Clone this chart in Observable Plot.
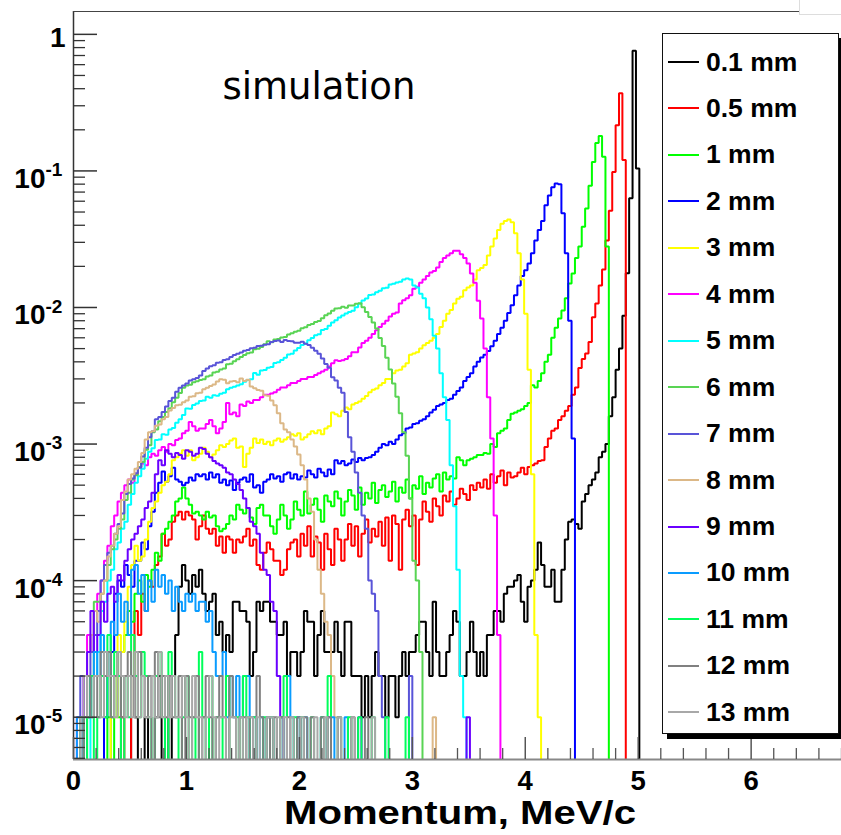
<!DOCTYPE html>
<html><head><meta charset="utf-8">
<script src="https://cdn.jsdelivr.net/npm/d3@7"></script>
<script src="https://cdn.jsdelivr.net/npm/@observablehq/plot@0.6"></script>
<style>
body{margin:0;background:#fff;}
#wrap{position:relative;width:841px;height:835px;overflow:hidden;}
#wrap svg{position:absolute;left:0;top:0;}
#legend{position:absolute;left:662px;top:33px;width:175px;height:699px;border:1px solid #111;box-shadow:5px 5px 0 #000;background:#fff;font-family:"Liberation Sans",Arial,sans-serif;font-weight:bold;}
.row{position:absolute;left:0;height:30px;display:flex;align-items:center;}
.swatch{width:31px;height:2px;margin-left:5px;margin-right:7px;}
.lab{font-size:26.5px;color:#000;}
#corner{position:absolute;left:799px;top:-2px;width:50px;height:15px;background:#fff;border:1px solid #ddd;}
</style></head><body><div id="wrap"></div>
<script>
// ---- data: counts per 0.03 MeV bin, normalised per 1e5 events ----
const BIN_WIDTH = 0.03;      // MeV
const EVENTS = 1e5;          // normalisation
const labels = ["0.1 mm","0.5 mm","1 mm","2 mm","3 mm","4 mm","5 mm","6 mm","7 mm","8 mm","9 mm","10 mm","11 mm","12 mm","13 mm"];
const colors = ["#000000","#ff0000","#00ff00","#0000ff","#ffff00","#ff00ff","#00ffff","#59d454","#5954d8","#dcb887","#6a00ff","#0a9cff","#00ff5a","#808080","#a8a8a8"];

const c_0_1mm = [0,0,0,0,0,0,0,0,0,0, 0,0,0,0,0,0,0,2,1,0, 0,1,0,0,1,2,0,2,0,2,
 4,9,13,10,8,11,9,12,8,6, 7,8,4,5,3,4,3,7,7,6, 6,5,2,3,7,6,7,7,5,5, 4,4,5,2,3,3,2,3,6,5,
 5,2,4,6,3,3,3,5,3,2, 5,5,2,2,2,1,2,1,2,3, 2,2,1,2,2,1,2,3,2,3, 3,4,5,5,3,2,7,3,2,2,
 3,4,6,5,2,2,3,5,3,2, 3,2,4,4,6,6,5,8,9,9, 10,11,7,5,9,10,12,19,13,9, 9,12,7,7,12,20,27,28,26,24,
 38,43,50,55,62,80,88,100,160,220, 350,500,870,1780,6300,76000,10400];
const c_0_5mm = [0,0,0,0,0,0,0,0,0,0, 0,0,0,0,1,0,0,2,6,4, 8,6,10,9,13,15,22,18,20,27,
 30,32,28,32,30,28,20,25,30,24, 22,24,18,21,16,21,20,16,20,19, 21,24,18,20,13,12,16,19,17,14,
 14,11,12,17,19,20,15,22,18,25, 15,21,19,12,22,17,13,24,20,14, 20,26,18,25,15,22,28,19,24,21,
 27,18,29,14,30,26,12,28,33,25, 30,13,28,38,32,27,40,35,30,42, 38,45,36,40,47,43,39,50,46,52,
 48,55,47,60,52,58,64,50,62,57, 58,62,67,60,68,70,72,75,76,95, 110,125,130,150,160,175,190,230,260,360,
 420,460,560,850,1070,1450,1900,3100,5100,9800, 21600,37000,12000];
const c_1mm = [0,0,0,0,0,0,0,0,0,0, 1,0,2,1,3,4,6,5,8,10, 7,11,9,12,16,14,22,24,27,30,
 38,40,48,40,36,31,32,30,28,32, 29,30,25,23,24,26,30,28,36,33, 31,34,29,26,34,36,30,30,25,22,
 28,36,30,24,28,38,33,30,45,31, 36,40,33,27,42,38,35,45,40,30, 38,46,42,33,48,36,44,40,52,37,
 46,50,41,45,53,38,48,44,55,40, 50,47,58,43,52,48,56,60,45,62, 55,58,56,80,76,70,76,78,80,83,
 83,86,85,100,95,120,125,130,150,167, 170,175,180,190,200,270,260,290,330,400, 450,600,710,830,950,1170,1500,1770,2300,2800,
 3900,5300,7800,11600,16000,18000,12700,2800];
const c_2mm = [0,0,0,0,0,0,0,0,0,1, 2,3,8,10,9,13,11,9,14,14, 19,17,25,32,44,52,63,53,58,67,
 55,53,50,52,57,54,60,58,60,55, 62,57,60,52,55,50,54,46,52,55, 57,53,60,48,50,44,53,55,60,56,
 58,53,60,62,56,60,55,58,57,64, 60,57,66,62,58,65,60,76,72,75, 70,72,77,74,79,76,79,80,83,88,
 94,100,98,104,100,108,116,120,130,132, 140,142,148,152,160,170,178,190,195,200, 210,215,230,245,260,290,310,330,370,400,
 430,450,480,520,570,640,710,800,910,1040, 1230,1450,1700,1870,2100,2500,3100,3700,4300,5600,
 6600,7600,8100,8000,4900,2500,800,110];
const c_3mm = [0,0,0,0,0,0,0,0,0,0, 0,2,1,4,3,5,9,13,18,14, 15,20,27,34,38,44,50,53,60,76,
 80,85,90,82,90,76,80,85,94,88, 80,84,90,98,95,100,106,110,94,96, 68,85,94,110,102,108,100,104,98,106,
 110,104,108,112,118,115,120,108,112,118, 124,120,126,118,130,135,170,165,160,175, 185,180,195,200,205,215,225,240,250,255,
 270,280,300,300,330,345,350,370,390,450, 460,470,500,530,550,570,600,640,720,800, 900,960,1070,1160,1200,1340,1400,1450,1600,1870,
 1950,2050,2400,2800,3200,3700,4100,4300,4400,4200, 3500,2500,1600,900,350,60,4,1];
const c_4mm = [0,1,0,2,4,3,6,8,10,14, 18,25,30,38,44,50,55,52,60,68, 72,70,80,85,82,90,95,88,100,98,
 107,110,120,125,145,135,125,130,130,140, 150,135,120,130,145,200,165,170,160,195, 190,205,200,210,210,220,230,230,235,240,
 250,260,260,270,280,280,290,300,300,310, 310,320,330,340,350,370,390,410,405,410, 420,440,470,470,510,550,570,600,640,680,
 720,760,800,860,900,920,1070,1130,1170,1230, 1370,1420,1520,1600,1700,1800,1850,1960,2150,2300,
 2400,2500,2600,2600,2450,2300,2100,1770,1520,1120, 830,500,220,110,30,4];
const c_5mm = [0,0,0,0,0,1,2,3,6,7, 10,12,17,19,24,27,36,43,52,58, 66,78,88,93,107,108,118,117,128,131,
 143,152,163,182,181,193,198,207,208,222, 218,228,226,234,238,252,258,263,268,274, 286,294,298,332,322,345,348,362,367,392,
 398,412,428,452,458,484,506,532,546,575, 598,625,636,684,695,735,776,805,846,875, 905,925,946,1005,1065,1125,1165,1235,1245,1295,
 1325,1385,1395,1475,1495,1525,1545,1605,1630,1600, 1450,1400,1260,1170,1000,820,620,500,330,220, 150,70,35,12,2,1];
const c_6mm = [0,0,0,0,1,2,7,7,8,10, 13,17,20,24,28,39,44,55,59,68, 74,91,98,122,128,147,158,172,183,202,
 218,237,258,268,272,284,288,294,298,312, 318,334,338,352,358,384,388,404,418,434, 448,462,468,494,498,514,538,566,556,584,
 588,604,608,634,648,664,676,704,718,744, 756,784,796,834,876,904,946,984,986,1014, 996,1034,1036,1064,1072,1004,926,852,776,702,
 598,522,428,352,278,222,168,122,82,40, 14,10,3];
const c_7mm = [0,0,2,2,1,3,4,6,10,13, 16,18,22,26,31,43,51,56,61,67, 81,94,112,124,152,158,172,188,207,218,
 242,258,268,278,292,298,304,318,342,358, 372,378,394,398,412,418,434,448,458,468, 482,488,504,508,522,524,534,538,558,568,
 574,558,578,568,566,552,552,562,542,532, 508,482,458,424,386,362,308,292,258,238, 172,112,88,62,44,30,24,10,8,6,
 2,1,0,0,0,0,0,0,0,2];
const c_8mm = [0,0,0,1,3,4,6,5,8,10, 15,18,22,25,39,45,55,60,66,74, 86,108,122,124,136,139,152,158,176,184,
 192,194,202,208,222,224,236,238,252,258, 266,273,287,298,296,279,287,289,283,302, 289,296,264,256,249,246,228,226,208,192,
 168,142,128,122,108,96,84,70,55,40, 32,20,12,8,5,4,2,1,0,0, 0,0,0,0,0,0,0,0,0,0,
 0,0,0,0,0,0,0,0,0,0, 0,0,0,0,0,0,1];
const c_9mm = [0,0,0,2,3,6,3,4,7,5, 8,9,7,11,10,14,17,20,22,25, 28,34,38,44,60,76,70,90,85,80,
 86,83,78,90,88,82,85,94,92,85, 80,75,72,70,67,62,60,55,51,46, 40,34,27,25,22,16,12,11,7,6,
 2,1,0,0,0,0,1,0,0,0, 0,0,0,0,0,1,0,0,0,0, 0,0,0,0,1,0,0,0,0,0,
 0,0,0,0,0,0,0,0,0,0, 0,0,0,0,0,0,0,0,0,0, 0,0,0,0,0,0,1];
const c_10mm = [0,1,1,0,1,2,3,2,4,2, 3,5,4,8,5,7,4,12,13,8, 11,6,10,7,12,9,11,8,10,6,
 9,7,6,8,7,8,6,7,7,5, 6,3,2,2,3,1,2,1,2,1, 2,2,0,1,0,1,0,1,1,0,
 0,1,0,2,1,0,1,0,1,0, 0,0,0,1,0,0,1,0,0,0, 1];
const c_11mm = [0,0,1,0,1,2,0,1,2,1, 4,1,3,2,0,2,1,4,2,1, 3,2,1,0,2,3,1,0,3,2,
 1,0,1,2,0,1,0,3,1,0, 2,0,1,1,0,2,0,0,1,0, 2,1,0,1,0,0,1,0,1,0,
 0,1,2,0,0,1,0,1,0,0, 1,0,0,1,0,2,0,0,1,0, 0,1,0,0,1,0,0,0,1,0, 0,0,1,0,0,0,0,0,1];
const c_12mm = [0,0,0,1,2,1,2,1,3,2, 3,1,2,3,1,2,3,2,1,3, 2,1,2,0,3,1,2,1,2,1,
 1,2,0,2,1,1,2,0,1,2, 1,0,1,2,1,0,2,1,0,1, 1,0,1,0,2,1,0,1,0,1,
 0,1,0,1,0,0,1,0,1,0, 1,0,0,1,0,1,0,0,1,0, 0,0,1,0,0,0,1];
const c_13mm = [0,0,1,2,1,1,2,2,1,3, 2,2,1,3,2,1,2,1,3,1, 2,1,1,2,1,3,1,2,1,2,
 1,1,2,1,0,2,1,1,0,1, 2,1,0,1,1,0,1,1,0,1, 0,1,1,0,1,0,0,1,1,0,
 1,0,1,0,1,0,0,1,0,0, 0,1,0,0,1,0,0,0,1,0, 0,0,1,0,0,0,0,0,1];
const allCounts = [c_0_1mm,c_0_5mm,c_1mm,c_2mm,c_3mm,c_4mm,c_5mm,c_6mm,c_7mm,c_8mm,c_9mm,c_10mm,c_11mm,c_12mm,c_13mm];

// axis ticks
const xDomain = [0, 6.8];
const yDomain = [4.9e-6, 1.47];
const xMajor = [0,1,2,3,4,5,6];
const yMajor = [1, 1e-1, 1e-2, 1e-3, 1e-4, 1e-5];
const yExp = ["", "-1", "-2", "-3", "-4", "-5"];
const xTitle = "Momentum, MeV/c";
const note = "simulation";

// ---- build ----
const W = 841, H = 835, ML = 73, MR = 0, MT = 11, MB = 76;
const FW = W - ML - MR, FH = H - MT - MB;
const FLOOR = 1e-9;
function stepPoints(counts) {
  const pts = [{x: 0, y: FLOOR}];
  counts.forEach((c, i) => pts.push({x: i * BIN_WIDTH, y: c > 0 ? c / EVENTS : FLOOR}));
  const end = counts.length * BIN_WIDTH;
  const last = counts[counts.length - 1];
  pts.push({x: end, y: last > 0 ? last / EVENTS : FLOOR});
  pts.push({x: end, y: FLOOR});
  return pts;
}
const xMinor = d3.range(0, 6.81, 0.2).filter(v => Math.abs(v - Math.round(v)) > 1e-6);
const yMinor = [];
for (let k = -6; k <= 0; k++) for (let m = 2; m <= 9; m++) { const v = m * Math.pow(10, k); if (v >= yDomain[0] && v <= yDomain[1]) yMinor.push(v); }

const font = "Liberation Sans, Arial, Helvetica, sans-serif";
const marks = [];
allCounts.forEach((c, i) => {
  marks.push(Plot.line(stepPoints(c), {x: "x", y: "y", curve: "step-after", stroke: colors[i], strokeWidth: 2, strokeLinejoin: "miter", clip: true}));
});
marks.push(
  Plot.ruleX([xDomain[0]], {stroke: "#333", strokeWidth: 1.5}),
  Plot.ruleY([yDomain[0]], {stroke: "#888", strokeWidth: 2}),
  Plot.ruleY([yDomain[1]], {stroke: "#444", strokeWidth: 1.2}),
  Plot.tickY(yMajor, {y: d => d, insetRight: FW - 24, stroke: "#333", strokeWidth: 1.5}),
  Plot.tickY(yMinor, {y: d => d, insetRight: FW - 12, stroke: "#333", strokeWidth: 1.3}),
  Plot.tickX(xMajor, {x: d => d, insetTop: FH - 22, stroke: "#555", strokeWidth: 1.5}),
  Plot.tickX(xMinor, {x: d => d, insetTop: FH - 11, stroke: "#555", strokeWidth: 1.3}),
  Plot.text(xMajor, {x: d => d, frameAnchor: "bottom", dy: 30, lineAnchor: "bottom", text: d => String(d), fontSize: 27.5, fontWeight: "bold", fontFamily: font, fill: "#000"}),
  Plot.text(yMajor.slice(0,1), {y: d => d, frameAnchor: "left", dx: -8, dy: 4, textAnchor: "end", text: d => "1", fontSize: 28, fontWeight: "bold", fontFamily: font, fill: "#000"}),
  Plot.text(yMajor.slice(1), {y: d => d, frameAnchor: "left", dx: -28, dy: 8, textAnchor: "end", text: d => "10", fontSize: 28, fontWeight: "bold", fontFamily: font, fill: "#000"}),
  Plot.text(yMajor.slice(1), {y: d => d, frameAnchor: "left", dx: -28, dy: -1, textAnchor: "start", text: (d, i) => yExp[i + 1], fontSize: 19, fontWeight: "bold", fontFamily: font, fill: "#000"}),
  Plot.text([xTitle], {frameAnchor: "bottom", dx: 2.5, dy: 64, lineAnchor: "bottom", text: d => d, fontSize: 34, fontWeight: "bold", fontFamily: font, fill: "#000"}),
  Plot.text([note], {frameAnchor: "top-left", dx: 149, dy: 87, lineAnchor: "bottom", textAnchor: "start", text: d => d, fontSize: 37, fontFamily: "DejaVu Sans, sans-serif", fill: "#000"})
);

const chart = Plot.plot({
  width: W, height: H, marginLeft: ML, marginRight: MR, marginTop: MT, marginBottom: MB,
  x: {domain: xDomain, axis: null},
  y: {type: "log", domain: yDomain, axis: null},
  style: {background: "#fff", overflow: "visible"},
  marks
});
// stretch the axis title to the reference's width
chart.querySelectorAll("text").forEach(t => {
  if (t.textContent === xTitle) { t.setAttribute("textLength", "352"); t.setAttribute("lengthAdjust", "spacingAndGlyphs"); }
});
const wrap = document.getElementById("wrap");
wrap.appendChild(chart);

// legend
const leg = document.createElement("div");
leg.id = "legend";
labels.forEach((lab, i) => {
  const row = document.createElement("div");
  row.className = "row";
  row.style.top = (62 + 46.45 * i - 33 - 1 - 15) + "px";
  const sw = document.createElement("span"); sw.className = "swatch"; sw.style.background = colors[i];
  const tx = document.createElement("span"); tx.className = "lab"; tx.textContent = lab;
  row.appendChild(sw); row.appendChild(tx); leg.appendChild(row);
});
wrap.appendChild(leg);
const corner = document.createElement("div"); corner.id = "corner"; wrap.appendChild(corner);
</script></body></html>
